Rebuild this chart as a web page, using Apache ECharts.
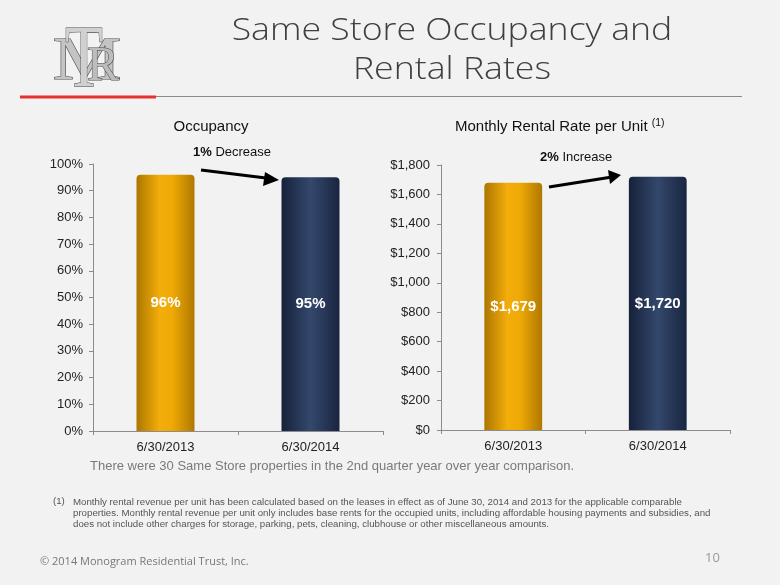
<!DOCTYPE html>
<html><head><meta charset="utf-8">
<script src="https://cdn.jsdelivr.net/npm/echarts@6/dist/echarts.min.js"></script>
<style>html,body{margin:0;padding:0;background:#f2f2f2;}#c{width:780px;height:585px;}</style>
</head><body><div id="c"></div>
<script>
var categories = ['6/30/2013', '6/30/2014'];
var occupancy = [96, 95];
var rent = [1679, 1720];
var occTicks = {min: 0, max: 100, interval: 10};
var rentTicks = {min: 0, max: 1800, interval: 200};

var gold = {type:'linear',x:0,y:0,x2:1,y2:0,colorStops:[{offset:0,color:'#ad7600'},{offset:0.4,color:'#f3ae0b'},{offset:0.62,color:'#eea906'},{offset:1,color:'#b07800'}]};
var navy = {type:'linear',x:0,y:0,x2:1,y2:0,colorStops:[{offset:0,color:'#16213a'},{offset:0.5,color:'#34486c'},{offset:1,color:'#192540'}]};
var colors = [gold, navy];

function fmtMoney(v){ return '$' + String(v).replace(/\B(?=(\d{3})+(?!\d))/g, ','); }

var FF = 'Liberation Sans, Arial';
var axisLab = {color:'#222', fontFamily:FF, fontSize:13};
var axLine = {show:true, lineStyle:{color:'#8c8c8c', width:1}};
var axTick = {show:true, length:4, lineStyle:{color:'#8c8c8c'}};

var chart = echarts.init(document.getElementById('c'), null, {renderer:'canvas'});
chart.setOption({
  backgroundColor:'#f2f2f2',
  animation:false,
  grid:[
    {left:93, right:397, top:164, bottom:154},
    {left:441, right:50, top:165, bottom:155}
  ],
  xAxis:[
    {type:'category', gridIndex:0, data:categories, axisLine:axLine, axisTick:axTick, axisLabel:Object.assign({margin:10}, axisLab)},
    {type:'category', gridIndex:1, data:categories, axisLine:axLine, axisTick:axTick, axisLabel:Object.assign({margin:10}, axisLab)}
  ],
  yAxis:[
    {type:'value', gridIndex:0, min:occTicks.min, max:occTicks.max, interval:occTicks.interval, axisLine:axLine, axisTick:axTick, splitLine:{show:false}, axisLabel:Object.assign({formatter:'{value}%', margin:10}, axisLab)},
    {type:'value', gridIndex:1, min:rentTicks.min, max:rentTicks.max, interval:rentTicks.interval, axisLine:axLine, axisTick:axTick, splitLine:{show:false}, axisLabel:Object.assign({formatter:function(v){return fmtMoney(v);}, margin:11}, axisLab)}
  ],
  series:[
    {type:'bar', xAxisIndex:0, yAxisIndex:0, barWidth:'40%',
      data: occupancy.map(function(v,i){return {value:v, itemStyle:{color:colors[i], borderRadius:[4,4,0,0]}};}),
      label:{show:true, position:'inside', formatter:'{c}%', color:'#fff', fontWeight:'bold', fontSize:15, fontFamily:FF}},
    {type:'bar', xAxisIndex:1, yAxisIndex:1, barWidth:'40%',
      data: rent.map(function(v,i){return {value:v, itemStyle:{color:colors[i], borderRadius:[4,4,0,0]}};}),
      label:{show:true, position:'inside', formatter:function(p){return fmtMoney(p.value);}, color:'#fff', fontWeight:'bold', fontSize:15, fontFamily:FF}}
  ],
  graphic:[
    // page title (stretched to mimic a wide geometric face)
    {type:'text', x:452, y:31, scaleX:1.15, style:{text:'Same Store Occupancy and', fontFamily:'Open Sans', fontWeight:300, fontSize:31, fill:'#404040', align:'center', verticalAlign:'middle'}},
    {type:'text', x:452, y:70, scaleX:1.15, style:{text:'Rental Rates', fontFamily:'Open Sans', fontWeight:300, fontSize:31, fill:'#404040', align:'center', verticalAlign:'middle'}},
    // logo monogram
    {type:'text', x:87, y:63, scaleX:1.25, style:{text:'M', fontFamily:'Liberation Serif', fontSize:62, fill:'#c4c4c4', stroke:'#4a4a4a', lineWidth:1, align:'center', verticalAlign:'middle'}},
    {type:'text', x:84, y:62, scaleY:1.45, style:{text:'T', fontFamily:'Liberation Serif', fontSize:62, fill:'#d0d0d0', stroke:'#4a4a4a', lineWidth:0.8, align:'center', verticalAlign:'middle'}},
    {type:'text', x:103, y:67, style:{text:'R', fontFamily:'Liberation Serif', fontSize:48, fill:'#bcbcbc', stroke:'#4a4a4a', lineWidth:1, align:'center', verticalAlign:'middle'}},
    // header rules
    {type:'rect', shape:{x:155, y:96, width:587, height:1}, style:{fill:'#8a8a8a'}},
    {type:'rect', shape:{x:20, y:95.5, width:136, height:3}, style:{fill:'#e8302f'}},
    // chart titles
    {type:'text', x:211, y:127, style:{text:'Occupancy', fontFamily:FF, fontSize:15, fill:'#111', align:'center', verticalAlign:'middle'}},
    {type:'text', x:455, y:127, style:{text:'Monthly Rental Rate per Unit {sup|(1)}', fontFamily:FF, fontSize:15, fill:'#111', verticalAlign:'middle', rich:{sup:{fontSize:10.5, fontFamily:FF, fill:'#111', verticalAlign:'top', padding:[0,0,7,0]}}}},
    // annotations
    {type:'text', x:193, y:152, style:{text:'{b|1%} Decrease', fontFamily:FF, fontSize:13, fill:'#111', verticalAlign:'middle', rich:{b:{fontWeight:'bold', fontSize:13, fontFamily:FF, fill:'#111'}}}},
    {type:'line', shape:{x1:201, y1:170, x2:270, y2:178.5}, style:{stroke:'#000', lineWidth:3}},
    {type:'polygon', shape:{points:[[279,180],[265,172],[263,186]]}, style:{fill:'#000'}},
    {type:'text', x:540, y:157, style:{text:'{b|2%} Increase', fontFamily:FF, fontSize:13, fill:'#111', verticalAlign:'middle', rich:{b:{fontWeight:'bold', fontSize:13, fontFamily:FF, fill:'#111'}}}},
    {type:'line', shape:{x1:549, y1:187, x2:612, y2:177}, style:{stroke:'#000', lineWidth:3}},
    {type:'polygon', shape:{points:[[621,175],[608,170],[610,184]]}, style:{fill:'#000'}},
    // subtitle
    {type:'text', x:90, y:466, style:{text:'There were 30 Same Store properties in the 2nd quarter year over year comparison.', fontFamily:FF, fontSize:13, fill:'#7a7a7a', verticalAlign:'middle'}},
    // footnote
    {type:'text', x:53, y:496.5, style:{text:'(1)', fontFamily:FF, fontSize:9.7, fill:'#555'}},
    {type:'text', x:73, y:496.5, style:{text:'Monthly rental revenue per unit has been calculated based on the leases in effect as of June 30, 2014 and 2013 for the applicable comparable\nproperties. Monthly rental revenue per unit only includes base rents for the occupied units, including affordable housing payments and subsidies, and\ndoes not include other charges for storage, parking, pets, cleaning, clubhouse or other miscellaneous amounts.', fontFamily:FF, fontSize:9.7, lineHeight:11.2, fill:'#555'}},
    // footer
    {type:'text', x:40, y:562, style:{text:'© 2014 Monogram Residential Trust, Inc.', fontFamily:'Open Sans', fontSize:11, fill:'#777', verticalAlign:'middle'}},
    {type:'text', x:705, y:558, style:{text:'10', fontFamily:'Open Sans', fontSize:13, fill:'#999', verticalAlign:'middle'}}
  ]
});
</script></body></html>
